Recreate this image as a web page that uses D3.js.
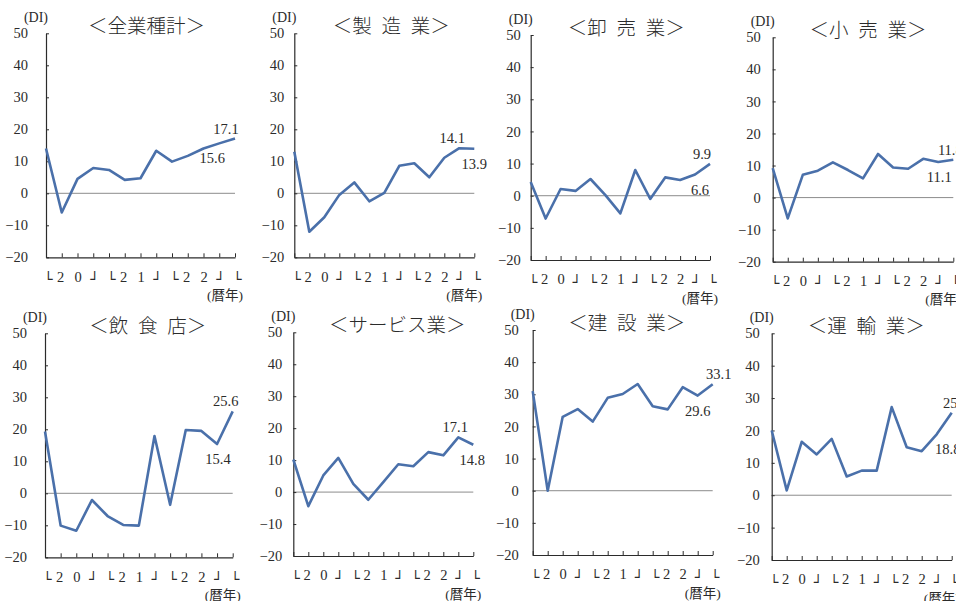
<!DOCTYPE html>
<html>
<head>
<meta charset="utf-8">
<script src="https://cdn.jsdelivr.net/npm/d3@7"></script>
<style>
  body { margin: 0; background: #fff; }
  svg { display: block; }
</style>
</head>
<body>
<svg id="chart" width="956" height="601"></svg>
<script>
// Data (quarterly DI, 2020 Q1 .. 2023 Q1)
var titles = ["＜全業種計＞", "＜製\u2002造\u2002業＞", "＜卸\u2002売\u2002業＞", "＜小\u2002売\u2002業＞",
              "＜飲\u2002食\u2002店＞", "＜サービス業＞", "＜建\u2002設\u2002業＞", "＜運\u2002輸\u2002業＞"];

var zenGyoshu = [14, -6, 4.5, 7.9, 7.3, 4.2, 4.7, 13.3, 9.9, 11.7, 14, 15.6, 17.1];
var seizo     = [13, -12, -7.5, -0.5, 3.4, -2.5, 0.1, 8.6, 9.4, 5.0, 11.1, 14.1, 13.9];
var oroshi    = [4.3, -7.1, 2.1, 1.5, 5.2, 0.2, -5.5, 8, -1, 5.7, 4.9, 6.6, 9.9];
var kouri     = [9.2, -6.5, 7.1, 8.4, 11, 8.6, 6.0, 13.6, 9.4, 9, 12.1, 11.1, 11.8];
var inshoku   = [19.3, -10.1, -11.7, -2.1, -7.1, -9.9, -10.1, 17.9, -3.6, 19.8, 19.5, 15.4, 25.6];
var service   = [10.2, -4.4, 5.2, 10.7, 2.6, -2.4, 3.1, 8.7, 8.1, 12.5, 11.5, 17.1, 14.8];
var kensetsu  = [31, 0, 23, 25.4, 21.5, 28.9, 30.1, 33.2, 26.3, 25.3, 32.2, 29.6, 33.1];
var unyu      = [20, 1.5, 16.5, 12.6, 17.4, 5.8, 7.6, 7.6, 27.2, 14.8, 13.6, 18.8, 25.5];

var series = [zenGyoshu, seizo, oroshi, kouri, inshoku, service, kensetsu, unyu];

var xTickLabels = ["└", "2", "0", "┘", "└", "2", "1", "┘", "└", "2", "2", "┘", "└"];
var yTicks = [-20, -10, 0, 10, 20, 30, 40, 50];

// labelled points: [index, side, nudge]
var callouts = [
  [[12, "above", -9], [11, "below", -7]],
  [[11, "above", -7], [12, "below", 0]],
  [[12, "above", -8], [11, "below", 5]],
  [[12, "above", -3], [11, "below", 1]],
  [[12, "above", -7], [11, "below", 1]],
  [[11, "above", -3], [12, "below", -1]],
  [[12, "above", 6],  [11, "below", 0]],
  [[12, "above", 4],  [11, "below", 11]]
];

// panel frames: left axis x, last x, y of 50, y of -20, label gap, title shift
var frames = [
  [46, 235, 33.3, 257.3, 18, 6],
  [294.3, 474.3, 33.3, 257.3, 10, 7],
  [530.7, 710, 35, 260, 10, 6],
  [772.7, 953.3, 37.3, 261.7, 12, 5],
  [45, 232.7, 333.3, 557.3, 18, 9],
  [293.3, 473.3, 332.3, 556, 11, 14],
  [532.7, 712.7, 330, 555, 14, 4],
  [771.7, 951.7, 333.3, 560, 12, 4.5]
];

var serif = "Liberation Serif, DejaVu Serif, serif";
var cjk = "Noto Sans CJK JP, sans-serif";
var ink = "#2b2b2b";
var lineColor = "#4a70aa";

var svg = d3.select("#chart");

series.forEach(function(vals, p){
  var f = frames[p];
  var x = d3.scaleLinear().domain([0, 12]).range([f[0], f[1]]);
  var y = d3.scaleLinear().domain([-20, 50]).range([f[3], f[2]]);
  var g = svg.append("g");

  // zero line
  g.append("line")
    .attr("x1", x(0)).attr("x2", x(12))
    .attr("y1", y(0)).attr("y2", y(0))
    .attr("stroke", "#8c8c8c").attr("stroke-width", 1);

  // y axis
  var ya = g.append("g")
    .attr("transform", "translate(" + f[0] + ",0)")
    .call(d3.axisLeft(y).tickValues(yTicks).tickSize(-3).tickSizeOuter(0).tickPadding(f[4]));
  ya.selectAll("text").attr("font-family", serif).attr("font-size", 14.5).attr("fill", ink);

  // x axis
  var xa = g.append("g")
    .attr("transform", "translate(0," + f[3] + ")")
    .call(d3.axisBottom(x).tickValues(d3.range(13)).tickSize(-4).tickSizeOuter(0)
      .tickPadding(14).tickFormat(function(d){ return xTickLabels[d]; }));
  xa.selectAll("text")
    .attr("fill", ink)
    .each(function(d){
      var m = d % 4, t = d3.select(this);
      if (m === 0 || m === 3) {
        // corner marks, dropped so the corner sits near the digit baseline
        t.attr("font-family", "DejaVu Sans Mono, DejaVu Sans, monospace")
          .attr("font-size", 14)
          .attr("text-anchor", m === 0 ? "start" : "end")
          .attr("dx", m === 0 ? -2.5 : 5)
          .attr("dy", "12.5px");
      } else {
        t.attr("font-family", serif).attr("font-size", 14.5)
          .attr("text-anchor", m === 1 ? "end" : "middle")
          .attr("dx", m === 1 ? 2 : 0);
      }
    });

  [ya, xa].forEach(function(a){
    a.select(".domain").attr("stroke", ink).attr("stroke-width", 1.2);
    a.selectAll(".tick line").attr("stroke", ink);
  });

  // series line
  var line = d3.line()
    .x(function(d, i){ return x(i); })
    .y(function(d){ return y(d); });
  g.append("path")
    .datum(vals)
    .attr("d", line)
    .attr("fill", "none")
    .attr("stroke", lineColor)
    .attr("stroke-width", 2.6)
    .attr("stroke-linejoin", "round");

  // value labels
  callouts[p].forEach(function(c){
    var i = c[0];
    g.append("text")
      .attr("x", x(i) + c[2])
      .attr("y", y(vals[i]) + (c[1] === "above" ? -5 : 20))
      .attr("text-anchor", "middle")
      .attr("font-family", serif).attr("font-size", 14.5).attr("fill", ink)
      .text(d3.format(".1f")(vals[i]));
  });

  // title
  g.append("text")
    .attr("x", (f[0] + f[1]) / 2 + f[5])
    .attr("y", f[2])
    .attr("text-anchor", "middle")
    .attr("font-family", cjk).attr("font-size", 19.5).attr("font-weight", 300)
    .attr("fill", ink)
    .text(titles[p]);

  // unit labels
  g.append("text")
    .attr("x", f[0] - 10).attr("y", f[2] - 11)
    .attr("text-anchor", "middle")
    .attr("font-family", serif).attr("font-size", 14).attr("fill", ink)
    .text("(DI)");
  g.append("text")
    .attr("x", f[1] - 10).attr("y", f[3] + 42.5)
    .attr("text-anchor", "middle")
    .attr("font-family", "Liberation Serif, Noto Sans CJK JP, serif")
    .attr("font-size", 13.5).attr("fill", ink)
    .text("(暦年)");
});
</script>
</body>
</html>
